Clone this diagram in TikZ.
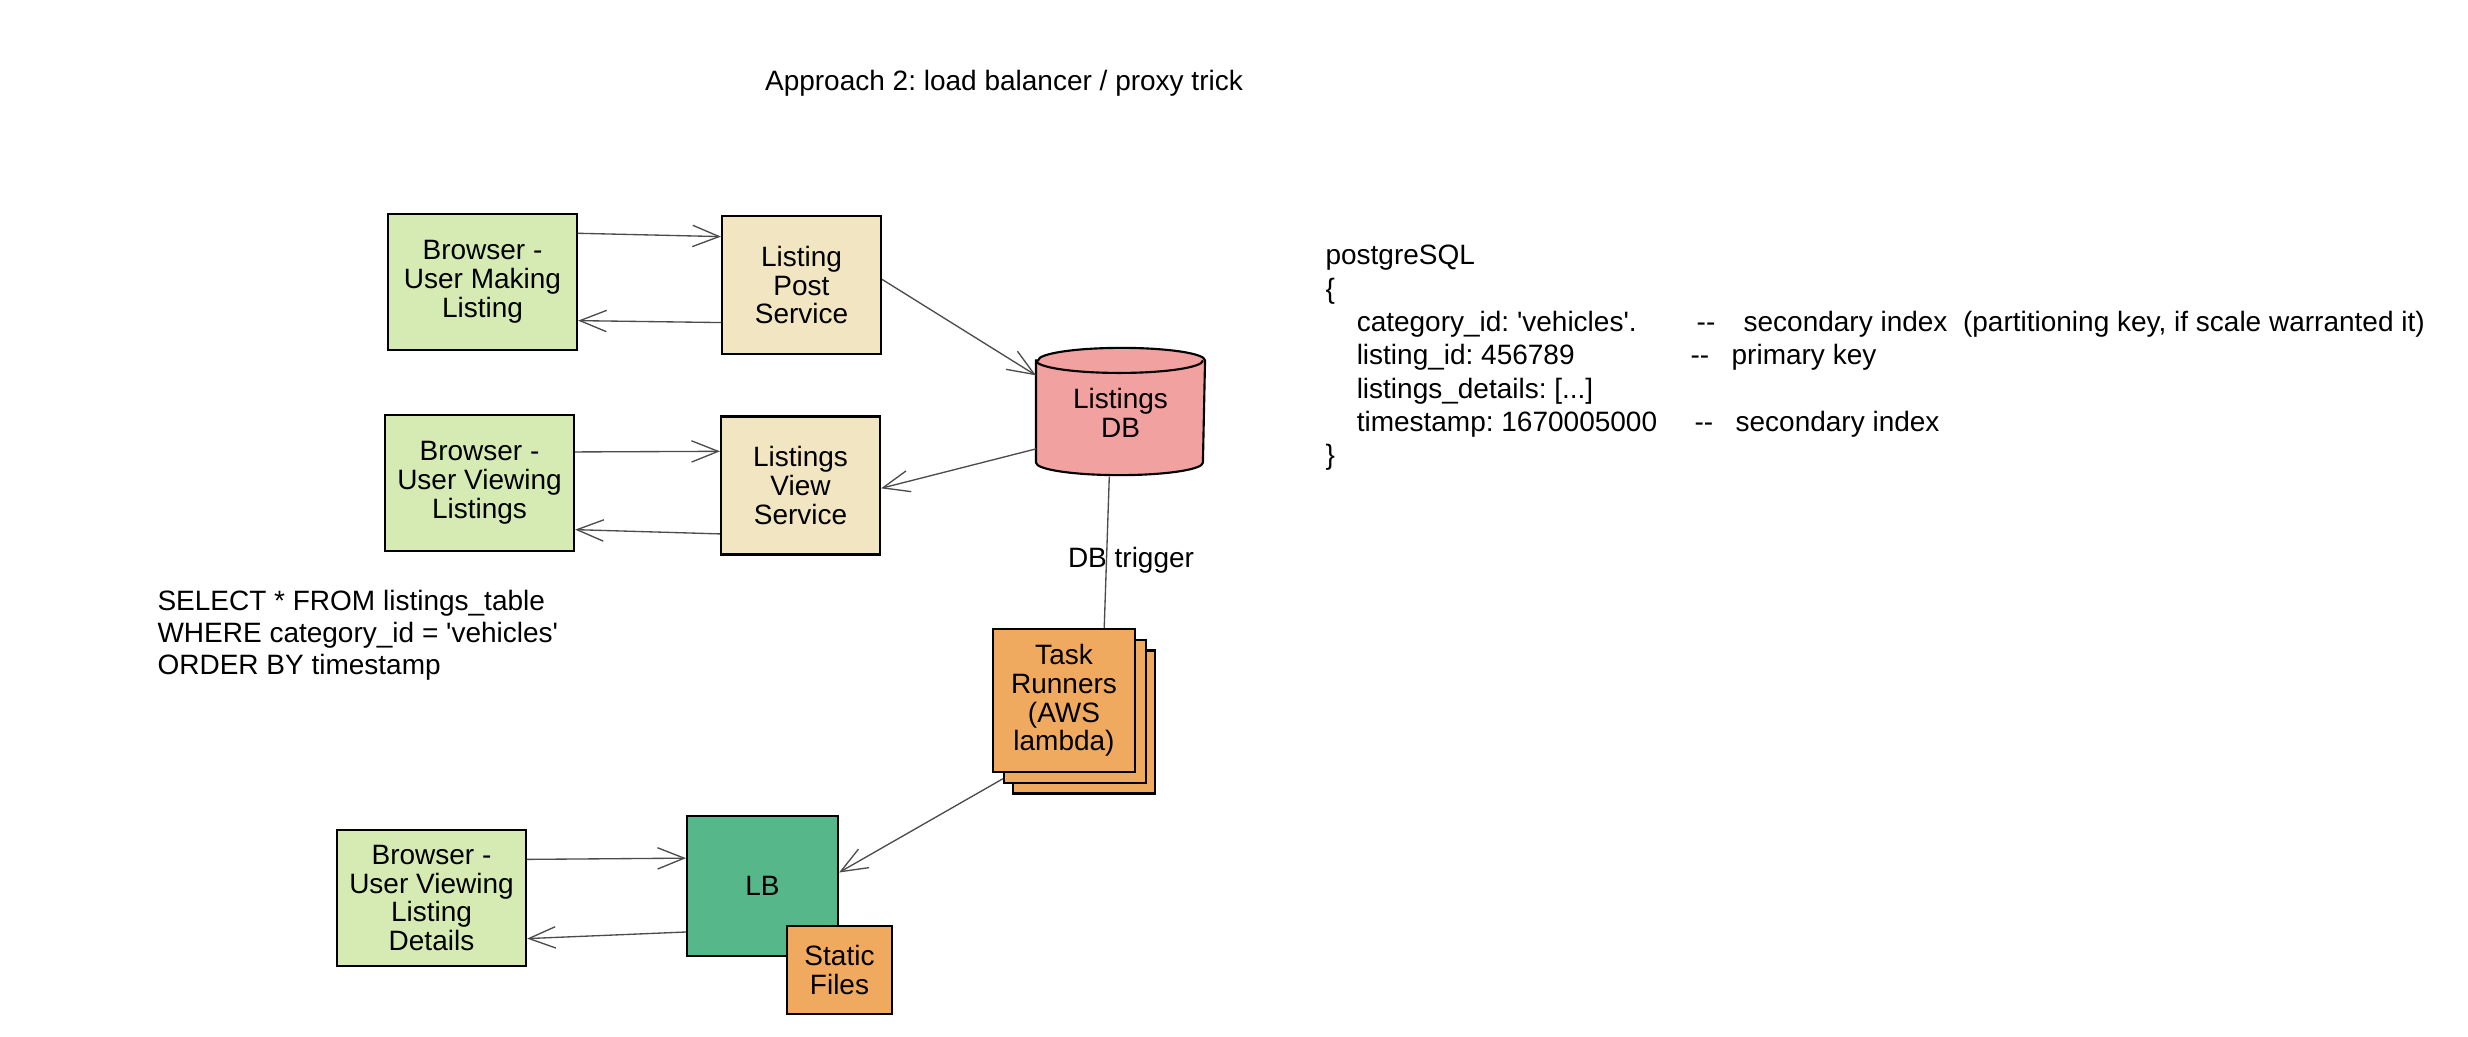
\documentclass[tikz,border=0pt]{standalone}
\usepackage{fontspec}
\setmainfont{Liberation Sans}[Ligatures=TeXOff]
\frenchspacing
\usetikzlibrary{arrows.meta,calc,backgrounds}
\definecolor{browsergreen}{HTML}{D6EBB4}
\definecolor{servicewheat}{HTML}{F2E6C2}
\definecolor{dbred}{HTML}{F0A1A0}
\definecolor{taskorange}{HTML}{F0AA60}
\definecolor{lbgreen}{HTML}{55B78A}
\tikzset{
	blk/.style={draw=black, line width=0.8pt, inner sep=0pt, align=center, font=\fontsize{10.5}{10.8}\selectfont},
	browserbox/.style={blk, fill=browsergreen, minimum width=70.9pt, minimum height=51pt},
	servicebox/.style={blk, fill=servicewheat, minimum width=59.6pt, minimum height=51.75pt},
	taskbox/.style={blk, fill=taskorange, minimum width=53.25pt, minimum height=53.6pt},
	dbbox/.style={blk, draw=none, minimum width=62.6pt, minimum height=46.9pt},
	dbarc/.style={x radius=31.3pt, y radius=4.7pt},
	flowline/.style={draw=black!70, line width=0.5pt},
	flow/.style={flowline, -{Straight Barb[length=10pt,width=8pt]}},
	notetext/.style={inner sep=0pt, align=left, font=\fontsize{10.5}{12}\selectfont},
	schematext/.style={notetext, font=\fontsize{10.5}{12.5}\selectfont},
}

\begin{document}
\begin{tikzpicture}[x=0.375pt, y=-0.375pt]
	%%%%% START %%%%%
	\useasboundingbox (0,0) rectangle (2468,1036);
	
	\node[notetext] (title) at (1004,83) {Approach 2: load balancer / proxy trick};
	
	\node[browserbox] (maker) at (482.5,282) {Browser -\\User Making\\Listing};
	\node[servicebox] (post) at (801.5,285) {Listing\\Post\\Service};
	\node[browserbox] (viewer) at (479.5,483) {Browser -\\User Viewing\\Listings};
	\node[servicebox] (view) at (800.5,485.5) {Listings\\View\\Service};
	
	\node[dbbox] (db) at (1120.5,413) {Listings\\DB};
	
	\node[taskbox] (tr3) at (1084,722) {};
	\node[taskbox] (tr2) at (1075,711.5) {};
	\node[taskbox] (tr) at (1064,700.5) {Task\\Runners\\(AWS\\lambda)};
	
	\node[browserbox] (details) at (431.5,898) {Browser -\\User Viewing\\Listing\\Details};
	\node[blk, fill=lbgreen, minimum width=56.6pt, minimum height=52.5pt] (lb) at (762.5,886) {LB};
	\node[blk, fill=taskorange, minimum width=39.4pt, minimum height=33pt] (static) at (839.5,970) {Static\\Files};
	
	\node[notetext, anchor=west] (query) at (157,635) {SELECT * FROM listings\_table\\WHERE category\_id = 'vehicles'\\ORDER BY timestamp};
	
	\node[schematext, anchor=west] (schema) at (1325,358) {postgreSQL\\
		\{\\
		\hspace*{11.7pt}\makebox[127.5pt][l]{category\_id: 'vehicles'.}\makebox[17.6pt][l]{--}secondary index\ \ (partitioning key, if scale warranted it)\\
		\hspace*{11.7pt}\makebox[125.2pt][l]{listing\_id: 456789}\makebox[15.4pt][l]{--}primary key\\
		\hspace*{11.7pt}listings\_details: [...]\\
		\hspace*{11.7pt}\makebox[126.7pt][l]{timestamp: 1670005000}\makebox[15.4pt][l]{--}secondary index\\
		\}};
	
	% cylinder behind the db text
	\begin{pgfonlayer}{background}
		\fill[white] (0,0) rectangle (2468,1036);
		\draw[fill=dbred, line width=0.8pt] ($(db.north west)+(0,11)$) -- ($(db.south west)+(0,-14)$) arc[start angle=180, end angle=360, dbarc] -- ($(db.north east)+(0,11)$) arc[start angle=0, end angle=180, dbarc] -- cycle;
		\draw[line width=0.8pt] ($(db.north west)+(0,11)$) arc[start angle=180, end angle=360, dbarc];
	\end{pgfonlayer}
	
	\draw[flow] (maker.27) -- (post.149);
	\draw[flow] (post.205) -- (maker.-22);
	\draw[flow] (viewer.18) -- (view.157);
	\draw[flow] (view.211) -- (viewer.-26);
	
	\draw[flow] (post.4) -- (db.156);
	\draw[flow] (db.203) -- (view.-2);
	\draw[flowline] (db.260) -- node[notetext, pos=0.55, xshift=9.2pt] {DB trigger} (tr.61);
	
	\draw[flow] (tr2.223) -- (lb.10);
	\draw[flow] (details.22) -- (lb.160);
	\draw[flow] (lb.211) -- (details.-23.5);
	
	%%%%% END %%%%%
\end{tikzpicture}
\end{document}
